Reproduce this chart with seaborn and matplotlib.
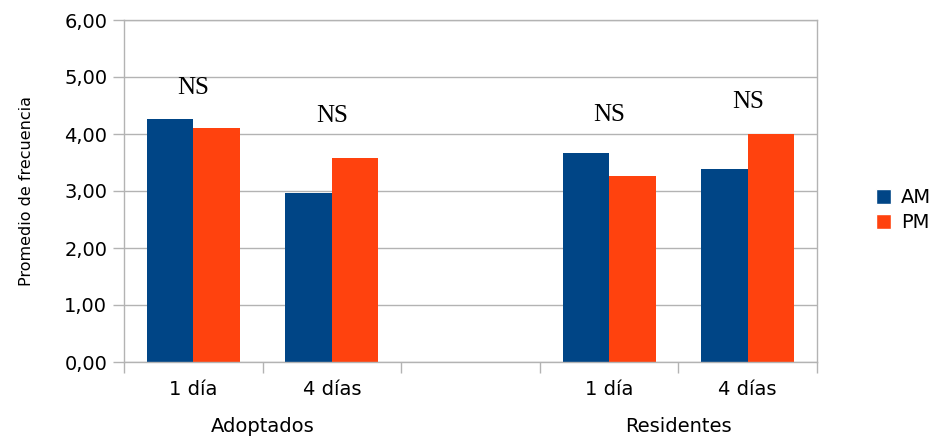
import matplotlib
matplotlib.use("Agg")
import matplotlib.pyplot as plt
import seaborn as sns
import pandas as pd
from matplotlib.ticker import FuncFormatter
from matplotlib.patches import Patch

groups = ["Adoptados", "Adoptados", "Residentes", "Residentes"]
days = ["1 día", "4 días", "1 día", "4 días"]
am_vals = [4.26, 2.97, 3.67, 3.39]
pm_vals = [4.10, 3.58, 3.27, 4.00]
ns_y = [4.80, 4.32, 4.33, 4.57]
periods = ["AM", "PM"]
colors = {"AM": "#004586", "PM": "#ff420e"}

keys = [f"{g}|{d}" for g, d in zip(groups, days)]
order = keys[:2] + ["gap"] + keys[2:]
tick_labels = days[:2] + [""] + days[2:]

df = pd.DataFrame({
    "slot": keys * 2,
    "periodo": ["AM"] * 4 + ["PM"] * 4,
    "valor": am_vals + pm_vals,
})

sns.set_style("white")
plt.rcParams["font.family"] = ["DejaVu Sans"]
plt.rcParams["text.color"] = "black"
plt.rcParams["axes.labelcolor"] = "black"
plt.rcParams["xtick.color"] = "black"
plt.rcParams["ytick.color"] = "black"

fig = plt.figure(figsize=(9.31, 4.36), dpi=100)
ax = fig.add_axes([124 / 931, 74 / 436, 693 / 931, 342 / 436])

sns.barplot(data=df, x="slot", y="valor", hue="periodo", order=order,
            hue_order=periods, palette=colors, width=0.67, saturation=1,
            errorbar=None, ax=ax, legend=False, linewidth=0)

ax.set_xlim(-0.5, 4.5)
ax.set_ylim(0, 6)
ax.set_yticks(range(7))
ax.yaxis.set_major_formatter(FuncFormatter(lambda v, p: f"{v:.2f}".replace(".", ",")))
ax.set_xticks(range(5))
ax.set_xticklabels(tick_labels)
ax.set_xticks([i - 0.5 for i in range(6)], minor=True)
ax.tick_params(axis="x", which="major", bottom=True, length=0, pad=13,
               labelsize=14, labelcolor="black")
ax.tick_params(axis="x", which="minor", bottom=True, length=8, color="#b3b3b3", width=1)
ax.tick_params(axis="y", left=True, length=8, color="#b3b3b3", width=1,
               labelsize=14, pad=4, labelcolor="black")
ax.set_xlabel("")
ax.set_ylabel("Promedio de frecuencia", fontsize=11.5, labelpad=22)
ax.yaxis.grid(True, color="#b3b3b3", linewidth=1)
ax.set_axisbelow(True)
for sp in ax.spines.values():
    sp.set_color("#b3b3b3")
    sp.set_linewidth(1)

ns_x = [0, 1, 3, 4]
for x, y in zip(ns_x, ns_y):
    ax.text(x, y, "NS", ha="center", va="center", fontsize=18,
            family="Liberation Serif")

for gname, xc in [("Adoptados", 0.5), ("Residentes", 3.5)]:
    ax.annotate(gname, xy=(xc, 0), xycoords=("data", "axes fraction"),
                xytext=(0, -64), textcoords="offset pixels",
                ha="center", va="center", fontsize=14)

handles = [Patch(facecolor=colors[p], label=p) for p in periods]
fig.legend(handles=handles, loc="center left", bbox_to_anchor=(858 / 931, 226 / 436),
           frameon=False, fontsize=14, handlelength=0.8, handleheight=0.8,
           handletextpad=0.5, labelspacing=0.3)

fig.savefig("out.png", dpi=100)
